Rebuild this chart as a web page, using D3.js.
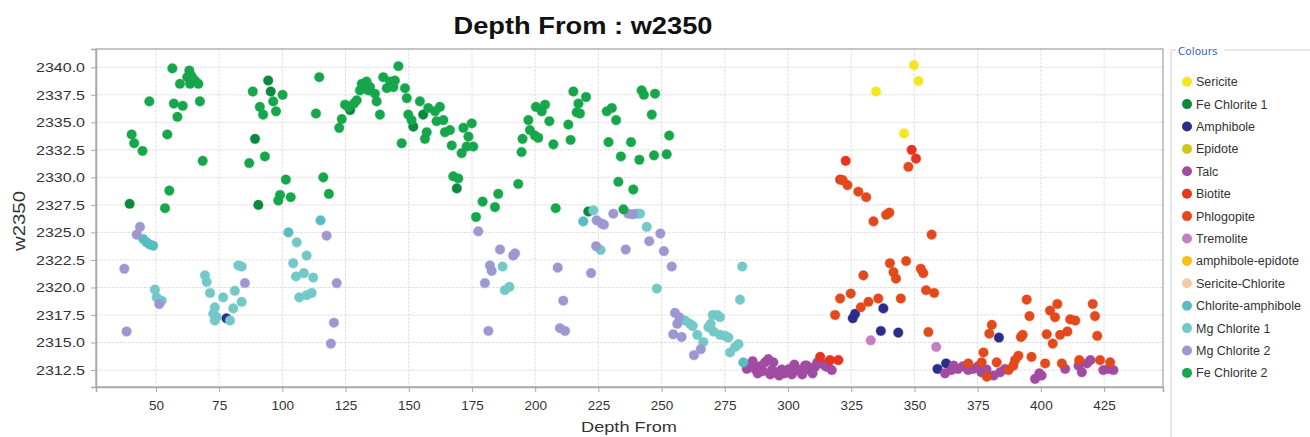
<!DOCTYPE html>
<html>
<head>
<meta charset="utf-8">
<script src="https://cdn.jsdelivr.net/npm/d3@7"></script>
<style>
  html, body { margin: 0; padding: 0; background: #ffffff; }
  svg { display: block; }
</style>
</head>
<body>
<svg id="chart" width="1310" height="437"></svg>
<script>
// ---------------- DATA ----------------
const chartTitle = "Depth From : w2350";
const xLabel = "Depth From";
const yLabel = "w2350";
const xTicks = [50, 75, 100, 125, 150, 175, 200, 225, 250, 275, 300, 325, 350, 375, 400, 425];
const yTicks = [2312.5, 2315.0, 2317.5, 2320.0, 2322.5, 2325.0, 2327.5, 2330.0, 2332.5, 2335.0, 2337.5, 2340.0];

const categories = ["Sericite", "Fe Chlorite 1", "Amphibole", "Epidote", "Talc", "Biotite", "Phlogopite",
  "Tremolite", "amphibole-epidote", "Sericite-Chlorite", "Chlorite-amphibole", "Mg Chlorite 1", "Mg Chlorite 2", "Fe Chlorite 2"];
const categoryColors = ["#f6e620", "#0b8a3d", "#2b2d8a", "#cfc81c", "#a14ba2", "#e8341f", "#e24a1c",
  "#c47fc1", "#f4c117", "#f5caa2", "#58bcc0", "#74c9c8", "#9c98d2", "#16a64b"];

const sericite = [[349.8,2340.2],[351.6,2338.75],[334.8,2337.8],[345.9,2334.0]];
const feChlorite1 = [[39.6,2327.6],[94.4,2338.8],[95.4,2337.8],[89.2,2333.5],[90.5,2327.5],[221.0,2326.9],
  [126.8,2336.1],[151.8,2334.6],[155.7,2335.7],[169.0,2329.0]];
const amphibole = [[77.9,2317.2],[325.6,2317.2],[326.5,2317.6],[337.7,2318.1],[336.7,2316.05],[343.6,2315.9],
  [359.1,2312.6],[362.5,2313.1],[383.4,2315.45]];
const epidote = [];
const talc = [[283.7,2312.6],[285.0,2312.9],[286.0,2313.3],[287.0,2312.6],[288.0,2312.2],[289.0,2312.85],[290.0,2312.4],
  [290.9,2313.2],[292.2,2313.5],[293.0,2312.1],[293.6,2312.5],[294.2,2313.2],[295.5,2312.3],[296.5,2312.0],[297.5,2312.55],
  [298.5,2312.2],[299.5,2312.3],[300.5,2312.6],[301.5,2312.1],[302.5,2313.0],[303.4,2312.6],[304.7,2312.4],[305.6,2312.1],
  [306.7,2312.9],[307.4,2312.9],[308.7,2312.5],[309.7,2312.2],[310.7,2312.8],[311.6,2313.2],[312.7,2313.1],[314.7,2312.9],
  [315.3,2312.8],[315.9,2313.2],[317.3,2312.5],
  [362.1,2312.2],[364.6,2312.5],[365.5,2312.9],[367.2,2312.6],[369.2,2312.85],[371.2,2312.5],[373.2,2312.6],[375.2,2312.85],
  [376.5,2312.3],[378.5,2312.55],[381.3,2312.0],[383.9,2312.3],[385.8,2312.6],[397.7,2311.7],[399.4,2312.2],[400.3,2312.0],
  [409.6,2312.6],[414.9,2312.9],[416.2,2312.3],[418.2,2313.1],[419.6,2313.4],[424.7,2312.5],[426.7,2312.6],[428.7,2312.5]];
const biotite = [[312.7,2313.7],[316.6,2313.4],[319.9,2313.4],[320.6,2329.8],[322.8,2331.5],[348.9,2332.5],[350.6,2331.7]];
const phlogopite = [[321.6,2329.75],[323.5,2329.3],[327.8,2328.7],[330.9,2328.2],[333.8,2326.0],[338.8,2326.6],[340.1,2326.8],
  [356.8,2324.8],[340.3,2322.2],[341.7,2321.4],[342.7,2320.8],[346.7,2322.4],[352.5,2321.7],[353.5,2321.3],[329.8,2321.1],
  [354.6,2319.75],[357.8,2319.5],[320.6,2319.0],[324.8,2319.45],[331.8,2318.7],[335.7,2319.0],[344.6,2319.0],[328.8,2318.2],
  [318.6,2317.5],[355.5,2315.95],[347.6,2330.96],
  [371.3,2313.1],[376.6,2313.2],[377.3,2314.1],[378.6,2311.9],[380.6,2316.6],[379.6,2315.8],[382.5,2313.2],[387.2,2312.5],
  [389.1,2312.9],[389.8,2313.4],[391.1,2313.8],[392.1,2315.5],[392.8,2315.7],[394.4,2318.9],[395.5,2317.4],[396.3,2313.7],
  [401.7,2313.1],[402.3,2315.75],[403.6,2317.9],[404.7,2314.9],[405.6,2317.3],[406.5,2318.5],[407.6,2315.7],[408.3,2313.1],
  [410.5,2316.0],[411.6,2317.1],[413.6,2317.0],[415.2,2313.4],[420.5,2318.5],[421.4,2317.4],[422.3,2315.6],[423.4,2313.4],[427.4,2313.2]];
const tremolite = [[332.7,2315.2],[358.6,2314.6]];
const amphiboleEpidote = [];
const sericiteChlorite = [];
const chloriteAmphibole = [[45.0,2324.4],[46.3,2324.1],[47.6,2323.9],[48.9,2323.8],[102.4,2325.0],[115.1,2326.1],
  [219.0,2326.0],[240.2,2326.7],[282.3,2313.2]];
const mgChlorite1 = [[49.6,2319.8],[50.3,2319.1],[52.3,2318.8],
  [69.4,2321.1],[70.1,2320.5],[71.4,2319.5],[73.3,2318.2],[72.7,2317.6],[74.0,2317.3],[73.3,2317.0],[76.6,2319.1],
  [79.3,2317.0],[80.6,2318.1],[81.2,2319.7],[83.9,2318.7],[82.6,2322.0],[83.9,2321.9],
  [105.7,2324.1],[104.3,2322.2],[105.4,2321.0],[106.7,2319.1],[109.6,2322.9],[108.5,2321.3],[112.2,2320.9],[109.6,2319.3],[111.6,2319.5],
  [187.1,2321.9],[188.0,2319.75],[189.8,2320.05],[223.0,2327.0],[225.9,2323.4],[244.1,2325.5],[248.1,2319.9],[241.5,2326.7],
  [259.3,2317.0],[261.2,2316.7],[262.3,2316.5],[264.1,2315.7],[266.5,2315.05],[268.5,2316.4],[269.4,2316.7],[270.2,2317.5],
  [272.0,2317.5],[273.1,2317.3],[270.5,2316.0],[273.1,2315.7],[275.1,2315.6],[276.4,2315.45],[277.1,2314.1],[279.1,2314.6],
  [280.4,2314.85],[281.9,2321.9],[281.0,2318.9]];
const mgChlorite2 = [[37.5,2321.7],[38.4,2316.0],[43.7,2325.5],[42.4,2324.8],[51.3,2318.5],[85.2,2320.4],[117.5,2324.7],
  [119.2,2314.9],[120.4,2316.8],[121.5,2320.4],[177.5,2325.1],[180.1,2320.4],[181.5,2316.05],[182.1,2322.0],[182.8,2321.5],
  [186.1,2323.45],[191.3,2322.9],[192.0,2323.1],[208.9,2321.8],[209.8,2316.3],[211.1,2318.8],[211.8,2316.05],[222.1,2321.3],
  [224.1,2323.75],[224.3,2326.1],[226.3,2325.8],[227.2,2325.7],[230.9,2326.7],[235.8,2323.45],[236.8,2326.7],[238.6,2326.65],
  [245.1,2324.2],[249.5,2324.9],[250.9,2323.3],[254.0,2321.9],[254.6,2315.75],[255.3,2317.7],[256.2,2316.7],[257.0,2317.3],
  [257.9,2315.5],[262.8,2313.85],[265.5,2314.4]];
const feChlorite2 = [[40.4,2333.9],[41.4,2333.1],[44.7,2332.4],[47.4,2336.9],[53.6,2327.2],[54.5,2333.9],[55.3,2328.8],
  [56.5,2339.9],[57.1,2336.7],[58.5,2335.5],[59.5,2338.5],[60.6,2336.5],[62.4,2339.1],[63.2,2339.7],[63.5,2338.5],[64.1,2339.2],
  [65.4,2338.8],[66.8,2338.5],[67.4,2336.9],[68.5,2331.5],
  [86.9,2331.3],[88.3,2337.8],[91.1,2336.4],[92.4,2335.7],[93.1,2331.9],[96.4,2336.9],[97.5,2336.0],[98.4,2327.9],[99.1,2328.4],
  [100.1,2337.5],[101.4,2329.8],[103.3,2328.2],[113.3,2335.8],[114.6,2339.1],[116.2,2330.0],[118.4,2328.5],
  [122.5,2334.5],[123.5,2335.3],[124.8,2336.6],[126.1,2336.4],[128.3,2336.7],[129.4,2337.0],[130.7,2337.9],[131.4,2338.5],
  [133.3,2338.7],[134.0,2337.9],[134.7,2338.2],[136.6,2337.6],[137.3,2336.9],[138.6,2335.7],[139.9,2339.1],[141.3,2338.1],
  [142.6,2338.7],[143.9,2338.2],[144.5,2338.8],[145.9,2340.1],[147.2,2333.1],[148.5,2338.1],[149.2,2337.2],[149.8,2335.7],
  [151.1,2335.2],[154.4,2336.9],[156.4,2333.5],[157.1,2334.1],[157.7,2336.3],[160.4,2336.0],[161.0,2335.1],[162.3,2336.4],
  [163.7,2335.2],[164.3,2334.1],[166.3,2334.3],[167.0,2332.9],[167.6,2330.1],[169.6,2329.9],[170.9,2332.2],[171.6,2334.5],
  [172.9,2332.8],[173.6,2333.7],[174.9,2334.9],[175.5,2332.8],[176.6,2326.4],
  [179.2,2327.8],[184.1,2327.3],[185.4,2328.5],[193.3,2329.4],[194.6,2332.3],[195.0,2333.5],[197.3,2335.2],[197.9,2334.3],
  [199.9,2333.8],[201.2,2333.6],[200.3,2336.4],[202.6,2336.0],[203.9,2336.6],[205.6,2335.1],[207.2,2333.0],[208.1,2327.2],
  [213.1,2334.8],[214.0,2333.4],[215.1,2337.8],[216.4,2335.9],[217.1,2336.7],[217.7,2335.8],[220.1,2337.3],[228.3,2336.0],
  [230.3,2336.3],[229.0,2333.2],[232.0,2335.2],[232.9,2329.6],[233.9,2331.9],[234.9,2327.1],[237.9,2333.2],[238.8,2328.9],
  [241.2,2331.6],[242.1,2337.9],[243.0,2337.5],[246.1,2335.7],[247.0,2332.0],[247.4,2337.6],[252.0,2332.1],[253.0,2333.8]];

const seriesData = [sericite, feChlorite1, amphibole, epidote, talc, biotite, phlogopite, tremolite,
  amphiboleEpidote, sericiteChlorite, chloriteAmphibole, mgChlorite1, mgChlorite2, feChlorite2];

// ---------------- LAYOUT ----------------
const svg = d3.select("#chart");
const plot = { left: 96, right: 1163, top: 49, bottom: 387 };
const x = d3.scaleLinear().domain([26.3, 448.3]).range([plot.left, plot.right]);
const y = d3.scaleLinear().domain([2310.96, 2341.66]).range([plot.bottom, plot.top]);
const font = "'Liberation Sans', Arial, sans-serif";

// gridlines
const grid = svg.append("g");
grid.selectAll("line.gx").data(xTicks).join("line")
  .attr("x1", d => x(d)).attr("x2", d => x(d))
  .attr("y1", plot.top).attr("y2", plot.bottom)
  .attr("stroke", "#e2e2e2").attr("stroke-width", 1).attr("stroke-dasharray", "3,1");
grid.selectAll("line.gy").data(yTicks).join("line")
  .attr("x1", plot.left).attr("x2", plot.right)
  .attr("y1", d => y(d)).attr("y2", d => y(d))
  .attr("stroke", "#e2e2e2").attr("stroke-width", 1).attr("stroke-dasharray", "3,1");

// plot border
svg.append("rect").attr("x", plot.left).attr("y", plot.top)
  .attr("width", plot.right - plot.left).attr("height", plot.bottom - plot.top)
  .attr("fill", "none").attr("stroke", "#b4b4b4").attr("stroke-width", 1.5);

// axes
const xAxis = svg.append("g").attr("transform", `translate(0,${plot.bottom})`)
  .call(d3.axisBottom(x).tickValues(xTicks).tickFormat(d3.format("d")).tickSize(5).tickPadding(8));
const yAxis = svg.append("g").attr("transform", `translate(${plot.left},0)`)
  .call(d3.axisLeft(y).tickValues(yTicks).tickFormat(d3.format(".1f")).tickSize(5).tickPadding(6));
[xAxis, yAxis].forEach(a => {
  a.select(".domain").attr("stroke", "#a8a8a8").attr("stroke-width", 1.5);
  a.selectAll(".tick line").attr("stroke", "#a8a8a8");
  a.selectAll(".tick text").attr("fill", "#333").style("font-family", font).style("font-size", "13.5px");
});
yAxis.selectAll(".tick text").attr("textLength", 49).attr("lengthAdjust", "spacingAndGlyphs");

// points
const pts = svg.append("g");
seriesData.forEach((arr, i) => {
  pts.selectAll(null).data(arr).join("circle")
    .attr("cx", d => x(d[0])).attr("cy", d => y(d[1])).attr("r", 4.8)
    .attr("fill", categoryColors[i])
    .attr("stroke", categoryColors[i]).attr("stroke-opacity", 0.35).attr("stroke-width", 1.2);
});

// title
svg.append("text").attr("x", 583).attr("y", 34).attr("text-anchor", "middle")
  .attr("textLength", 259).attr("lengthAdjust", "spacingAndGlyphs")
  .style("font-family", font).style("font-size", "23px").style("font-weight", "bold").attr("fill", "#111")
  .text(chartTitle);

// axis labels
svg.append("text").attr("x", 629).attr("y", 432).attr("text-anchor", "middle")
  .attr("textLength", 96).attr("lengthAdjust", "spacingAndGlyphs")
  .style("font-family", font).style("font-size", "15px").attr("fill", "#333").text(xLabel);
svg.append("text").attr("transform", "translate(25,221) rotate(-90)").attr("text-anchor", "middle")
  .attr("textLength", 60).attr("lengthAdjust", "spacingAndGlyphs")
  .style("font-family", font).style("font-size", "17px").attr("fill", "#333").text(yLabel);

// legend
const lg = svg.append("g");
lg.append("line").attr("x1", 1171).attr("x2", 1171).attr("y1", 50).attr("y2", 437).attr("stroke", "#cfcfcf");
lg.append("line").attr("x1", 1171).attr("x2", 1176).attr("y1", 50).attr("y2", 50).attr("stroke", "#cfcfcf");
lg.append("line").attr("x1", 1224).attr("x2", 1310).attr("y1", 50).attr("y2", 50).attr("stroke", "#cfcfcf");
lg.append("text").attr("x", 1178).attr("y", 55).style("font-family", "'DejaVu Sans', sans-serif")
  .style("font-size", "10.5px").attr("fill", "#3b64b6").text("Colours");
const items = lg.selectAll("g.item").data(categories).join("g")
  .attr("transform", (d, i) => `translate(1187,${81.7 + i * 22.4})`);
items.append("circle").attr("r", 5).attr("fill", (d, i) => categoryColors[i]);
items.append("text").attr("x", 9).attr("y", 4.5)
  .style("font-family", font).style("font-size", "12.5px").attr("fill", "#333").text(d => d);
</script>
</body>
</html>
